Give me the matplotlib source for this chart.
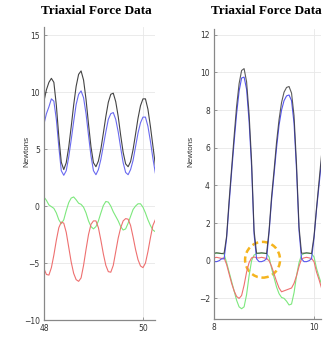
import matplotlib
matplotlib.use("Agg")
import matplotlib.pyplot as plt
from matplotlib.patches import Ellipse

# --- данные левой панели (время 48..50.25 с, шаг 0.05) ---
t_left = [48.00, 48.05, 48.10, 48.15, 48.20, 48.25, 48.30, 48.35, 48.40, 48.45,
          48.50, 48.55, 48.60, 48.65, 48.70, 48.75, 48.80, 48.85, 48.90, 48.95,
          49.00, 49.05, 49.10, 49.15, 49.20, 49.25, 49.30, 49.35, 49.40, 49.45,
          49.50, 49.55, 49.60, 49.65, 49.70, 49.75, 49.80, 49.85, 49.90, 49.95,
          50.00, 50.05, 50.10, 50.15, 50.20, 50.25]
total_left = [9.2, 10.2, 10.85, 11.2, 10.85, 8.85, 6.1, 3.85, 3.2, 3.8,
              5.15, 6.95, 8.85, 10.5, 11.55, 11.85, 11.05, 9.35, 7.2, 5.2,
              3.8, 3.45, 3.95, 5.0, 6.4, 7.85, 9.1, 9.8, 9.9, 9.15,
              7.85, 6.2, 4.7, 3.7, 3.45, 3.9, 4.95, 6.3, 7.7, 8.8,
              9.4, 9.4, 8.5, 7.0, 5.3, 3.6]
z_left = [7.2, 8.1, 8.7, 9.4, 9.2, 7.6, 5.2, 3.1, 2.7, 3.1,
          4.3, 5.8, 7.4, 8.9, 9.8, 10.1, 9.5, 8.1, 6.2, 4.4,
          3.1, 2.75, 3.2, 4.1, 5.3, 6.5, 7.6, 8.1, 8.2, 7.6,
          6.5, 5.1, 3.8, 2.95, 2.75, 3.2, 4.0, 5.2, 6.4, 7.3,
          7.8, 7.8, 7.0, 5.7, 4.2, 2.9]
y_left = [0.79, 0.5, 0.1, -0.05, -0.2, -0.6, -1.2, -1.55, -1.2, -0.4,
          0.3, 0.7, 0.8, 0.55, 0.25, 0.15, -0.1, -0.6, -1.3, -1.8,
          -2.0, -1.8, -1.3, -0.6, 0.05, 0.4, 0.35, 0.0, -0.5, -0.9,
          -1.3, -1.8, -2.1, -2.0, -1.5, -0.9, -0.3, 0.0, 0.2, 0.2,
          -0.1, -0.6, -1.2, -1.7, -2.1, -2.25]
x_left = [-5.5, -6.0, -6.05, -5.4, -4.3, -3.0, -1.9, -1.4, -1.5, -2.3,
          -3.6, -4.9, -5.9, -6.45, -6.6, -6.3, -5.2, -3.8, -2.5, -1.6,
          -1.3, -1.3, -1.9, -3.0, -4.2, -5.2, -5.75, -5.8, -5.2, -4.0,
          -2.8, -1.9, -1.3, -1.1, -1.15, -1.7, -2.7, -3.8, -4.7, -5.25,
          -5.4, -5.0, -4.0, -2.8, -1.7, -1.2]

# --- данные правой панели (время 7.95..10.2 с, шаг 0.05) ---
t_right = [7.95, 8.00, 8.05, 8.10, 8.15, 8.20, 8.25, 8.30, 8.35, 8.40,
           8.45, 8.50, 8.55, 8.60, 8.65, 8.70, 8.75, 8.80, 8.85, 8.90,
           8.95, 9.00, 9.05, 9.10, 9.15, 9.20, 9.25, 9.30, 9.35, 9.40,
           9.45, 9.50, 9.55, 9.60, 9.65, 9.70, 9.75, 9.80, 9.85, 9.90,
           9.95, 10.00, 10.05, 10.10, 10.15, 10.20]
total_right = [0.4, 0.4, 0.42, 0.4, 0.38, 0.4, 1.3, 3.2, 4.9, 6.6,
               8.2, 9.4, 10.1, 10.2, 9.5, 7.8, 5.3, 1.6, 0.4, 0.4,
               0.42, 0.4, 0.38, 1.6, 3.4, 4.8, 6.3, 7.5, 8.4, 8.95,
               9.2, 9.25, 8.9, 7.7, 5.1, 1.8, 0.4, 0.4, 0.42, 0.4,
               0.38, 1.3, 2.8, 4.2, 5.6, 7.0]
z_right = [0.0, -0.05, -0.05, 0.0, 0.1, 0.1, 1.2, 3.0, 4.7, 6.3,
           7.8, 9.0, 9.7, 9.75, 9.1, 7.4, 5.0, 1.4, 0.1, -0.05,
           -0.05, 0.0, 0.1, 1.5, 3.2, 4.6, 6.0, 7.2, 8.0, 8.5,
           8.75, 8.8, 8.5, 7.3, 4.8, 1.6, 0.1, -0.05, -0.05, 0.0,
           0.1, 1.2, 2.7, 4.0, 5.3, 6.6]
y_right = [0.35, 0.38, 0.4, 0.4, 0.38, 0.35, -0.1, -0.6, -1.1, -1.6,
           -2.1, -2.45, -2.55, -2.45, -1.8, -0.8, 0.0, 0.3, 0.38, 0.4,
           0.4, 0.4, 0.38, 0.2, -0.4, -0.9, -1.4, -1.75, -1.95, -2.0,
           -2.15, -2.35, -2.3, -1.7, -0.8, -0.1, 0.3, 0.38, 0.4, 0.4,
           0.38, 0.2, -0.4, -0.85, -1.25, -1.6]
x_right = [0.15, 0.15, 0.18, 0.15, 0.12, 0.15, -0.2, -0.7, -1.2, -1.6,
           -1.9, -2.0, -1.85, -1.3, -0.6, -0.1, 0.15, 0.2, 0.15, 0.15,
           0.18, 0.15, 0.12, 0.0, -0.3, -0.7, -1.1, -1.45, -1.65, -1.6,
           -1.55, -1.5, -1.45, -1.2, -0.8, -0.3, 0.1, 0.15, 0.18, 0.15,
           0.12, -0.05, -0.6, -1.0, -1.45, -1.8]

fig = plt.figure(figsize=(3.33, 3.42), dpi=100)
ax1 = fig.add_axes([0.132, 0.064, 0.333, 0.857])
ax2 = fig.add_axes([0.643, 0.067, 0.321, 0.848])


def style(ax, xticks, yticks, label_x):
    ax.set_xticks(xticks)
    ax.set_yticks(yticks)
    ax.grid(True, color='#e8e8e8', linewidth=0.6)
    ax.set_axisbelow(True)
    for s in ['top', 'right']:
        ax.spines[s].set_visible(False)
    for s in ['left', 'bottom']:
        ax.spines[s].set_color('#888888')
        ax.spines[s].set_linewidth(0.9)
    ax.tick_params(direction='in', length=2.5, width=0.6, colors='#888888',
                   labelsize=5.5, labelcolor='#333333', pad=3)
    ax.set_ylabel('Newtons', fontsize=5.8, family='Liberation Sans', color='#333333')
    ax.yaxis.set_label_coords(label_x, 0.577)


# левая панель
ax1.plot(t_left, y_left, color='#7de87d', lw=0.8)
ax1.plot(t_left, x_left, color='#ee7070', lw=0.8)
ax1.plot(t_left, z_left, color='#6a6af0', lw=0.8)
ax1.plot(t_left, total_left, color='#444444', lw=0.8)
ax1.set_xlim(48, 50.24)
ax1.set_ylim(-10, 15.7)
style(ax1, [48, 50], [-10, -5, 0, 5, 10, 15], -0.126)

# правая панель
ax2.plot(t_right, y_right, color='#7de87d', lw=0.8)
ax2.plot(t_right, x_right, color='#ee7070', lw=0.8)
ax2.plot(t_right, z_right, color='#5555ee', lw=0.8)
ax2.plot(t_right, total_right, color='#333333', lw=0.8, alpha=0.8)
ax2.set_xlim(8, 10.14)
ax2.set_ylim(-3.1, 12.3)
style(ax2, [8, 10], [-2, 0, 2, 4, 6, 8, 10, 12], -0.187)

# оранжевый пунктирный круг
ax2.add_patch(Ellipse((8.97, 0.05), width=0.70, height=1.9, fill=False,
                      edgecolor='#f5b41e', lw=1.8, linestyle=(0, (2.5, 1.5))))

fig.text(0.290, 0.968, 'Triaxial Force Data', ha='center', va='center',
         fontsize=9.5, fontweight='bold', family='Liberation Serif')
fig.text(0.799, 0.968, 'Triaxial Force Data', ha='center', va='center',
         fontsize=9.5, fontweight='bold', family='Liberation Serif')

plt.savefig('out.png', dpi=100)
